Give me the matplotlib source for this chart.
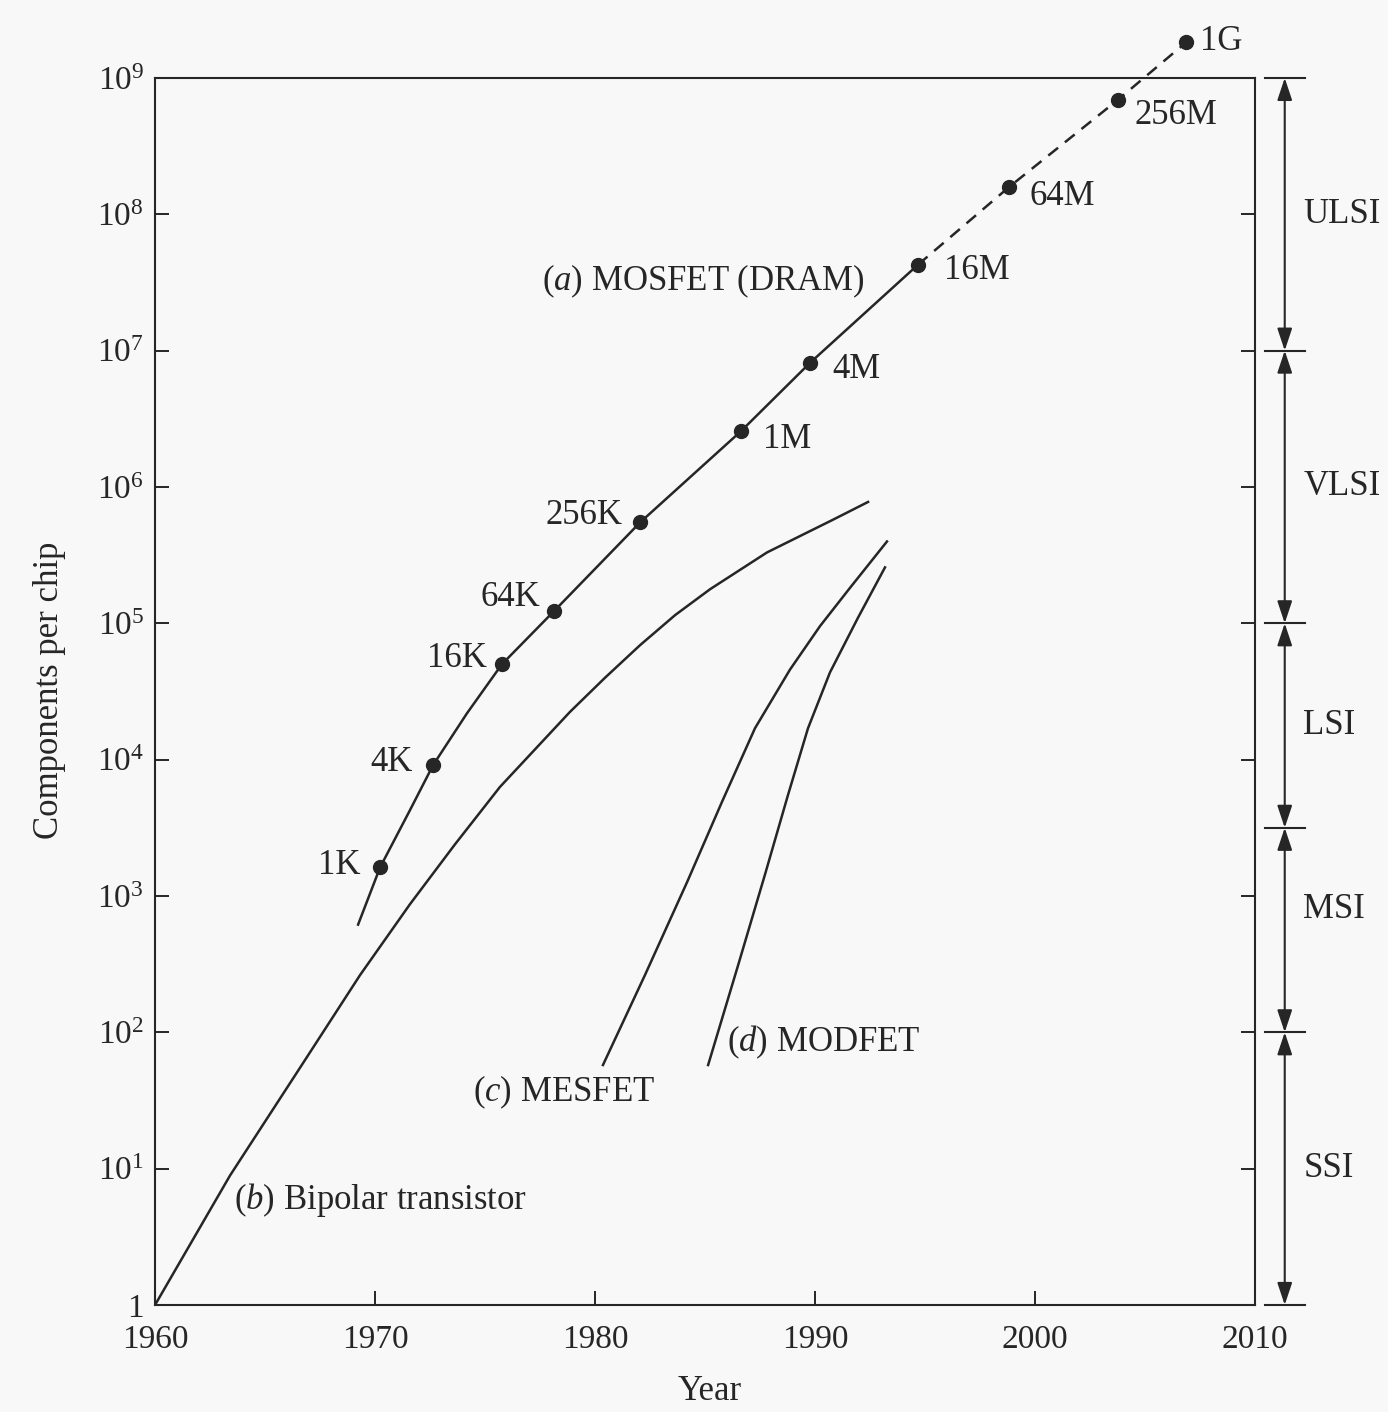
import numpy as np
import matplotlib.pyplot as plt
from matplotlib import transforms
from matplotlib.ticker import NullLocator

plt.rcParams['font.family'] = 'Liberation Serif'
plt.rcParams['mathtext.fontset'] = 'custom'
plt.rcParams['mathtext.rm'] = 'Liberation Serif'
plt.rcParams['mathtext.it'] = 'Liberation Serif:italic'

ink = '#262626'
bg = '#f8f8f9'

# (a) MOSFET DRAM, solid part (year, log10 components per chip)
mos_years = [1969.23, 1970.23, 1971.59, 1972.64, 1974.18, 1975.77, 1978.14,
             1982.05, 1986.64, 1989.77, 1994.68]
mos_logs = [2.79, 3.21, 3.63, 3.96, 4.34, 4.70, 5.09, 5.74, 6.41, 6.91, 7.63]
# projected part (dashed)
proj_years = [1994.68, 1998.82, 2003.77, 2006.86]
proj_logs = [7.63, 8.20, 8.84, 9.26]

# DRAM generations (dots)
dram_labels = ['1K', '4K', '16K', '64K', '256K', '1M', '4M', '16M', '64M', '256M', '1G']
dram_years = [1970.23, 1972.64, 1975.77, 1978.14, 1982.05, 1986.64, 1989.77,
              1994.68, 1998.82, 2003.77, 2006.86]
dram_logs = [3.21, 3.96, 4.70, 5.09, 5.74, 6.41, 6.91, 7.63, 8.20, 8.84, 9.26]

# (b) bipolar transistor
bip_years = [1960.0, 1963.41, 1966.59, 1969.32, 1971.59, 1973.64, 1975.68,
             1978.86, 1980.45, 1982.05, 1983.64, 1985.23, 1987.82, 1990.82, 1992.41]
bip_logs = [0.0, 0.95, 1.74, 2.42, 2.94, 3.38, 3.80,
            4.35, 4.60, 4.84, 5.06, 5.25, 5.52, 5.76, 5.89]

# (c) MESFET
mes_years = [1980.36, 1982.27, 1984.18, 1985.77, 1987.27, 1988.86, 1990.23,
             1991.59, 1993.27]
mes_logs = [1.76, 2.42, 3.10, 3.69, 4.23, 4.66, 4.98, 5.26, 5.60]

# (d) MODFET
mod_years = [1985.14, 1986.50, 1987.73, 1988.77, 1989.68, 1990.68, 1991.95, 1993.18]
mod_logs = [1.76, 2.49, 3.16, 3.74, 4.23, 4.64, 5.04, 5.41]

# integration levels on the right
range_names = ['SSI', 'MSI', 'LSI', 'VLSI', 'ULSI']
range_bounds = [0, 2, 3.5, 5, 7, 9]
range_label_logs = [1.0, 2.9, 4.25, 6.0, 8.0]

year_ticks = [1960, 1970, 1980, 1990, 2000, 2010]
ytick_labels = ['1'] + [r'$10^{%d}$' % k for k in range(1, 10)]

# label offsets (points) from each DRAM dot
dram_offsets = [(-14, 1), (-15, 2), (-11, 4), (-10, 10), (-13, 5),
                (16, -6), (16, -5), (19, -4), (15, -7), (12, -11), (10, 1)]

fig = plt.figure(figsize=(13.88, 14.12), dpi=100, facecolor=bg)
ax = fig.add_axes([0.1117, 0.0758, 0.7925, 0.869])
ax.set_facecolor(bg)
ax.set_yscale('log')
ax.set_xlim(1960, 2010)
ax.set_ylim(1, 1e9)

lw = 1.8
ax.plot(mos_years, 10 ** np.array(mos_logs), color=ink, lw=lw)
ax.plot(proj_years, 10 ** np.array(proj_logs), color=ink, lw=lw,
        ls=(0, (5, 3.5)), clip_on=False)
ax.plot(dram_years, 10 ** np.array(dram_logs), 'o', color=ink, ms=10,
        clip_on=False, zorder=3)
ax.plot(bip_years, 10 ** np.array(bip_logs), color=ink, lw=lw)
ax.plot(mes_years, 10 ** np.array(mes_logs), color=ink, lw=lw)
ax.plot(mod_years, 10 ** np.array(mod_logs), color=ink, lw=lw)

fs = 25
for lab, x, y, off in zip(dram_labels, dram_years, dram_logs, dram_offsets):
    ax.annotate(lab, (x, 10 ** y), xytext=off, textcoords='offset points',
                ha='right' if off[0] < 0 else 'left', va='center',
                fontsize=fs, color=ink, annotation_clip=False)

ax.text(1977.6, 10 ** 7.51, r'($\mathit{a}$) MOSFET (DRAM)', fontsize=fs,
        color=ink, ha='left', va='center')
ax.text(1963.6, 10 ** 0.77, r'($\mathit{b}$) Bipolar transistor', fontsize=fs,
        color=ink, ha='left', va='center')
ax.text(1974.45, 10 ** 1.56, r'($\mathit{c}$) MESFET', fontsize=fs,
        color=ink, ha='left', va='center')
ax.text(1986.0, 10 ** 1.93, r'($\mathit{d}$) MODFET', fontsize=fs,
        color=ink, ha='left', va='center')

# axes styling
ax.set_xticks(year_ticks)
ax.set_xticklabels([str(y) for y in year_ticks])
ax.set_yticks([10 ** k for k in range(10)])
ax.set_yticklabels(ytick_labels)
ax.yaxis.set_minor_locator(NullLocator())
ax.tick_params(direction='in', length=10, width=1.4, labelsize=24,
               color=ink, labelcolor=ink)
ax.tick_params(axis='y', right=True, labelright=False, pad=8)
ax.tick_params(axis='x', pad=14)
for s in ax.spines.values():
    s.set_linewidth(1.5)
    s.set_color(ink)

# right-hand integration scale
blend = transforms.blended_transform_factory(ax.transAxes, ax.transData)
for b in range_bounds:
    ax.plot([1.009, 1.0455], [10 ** b, 10 ** b], color=ink, lw=1.5,
            transform=blend, clip_on=False)
for lo, hi in zip(range_bounds[:-1], range_bounds[1:]):
    ax.annotate('', xy=(1.027, 10 ** lo), xytext=(1.027, 10 ** hi),
                xycoords=blend, textcoords=blend, annotation_clip=False,
                arrowprops=dict(arrowstyle='<|-|>,head_length=0.9,head_width=0.3',
                                color=ink, lw=1.5, shrinkA=0, shrinkB=0,
                                mutation_scale=15))
for name, y in zip(range_names, range_label_logs):
    ax.text(1.044, 10 ** y, name, transform=blend, fontsize=fs, color=ink,
            ha='left', va='center')

fig.text(0.036, 0.5113, 'Components per chip', rotation=90, fontsize=fs,
         color=ink, ha='center', va='center')
fig.text(0.5115, 0.0142, 'Year', fontsize=fs, color=ink, ha='center', va='center')

fig.savefig('out.png', dpi=100, facecolor=bg)
